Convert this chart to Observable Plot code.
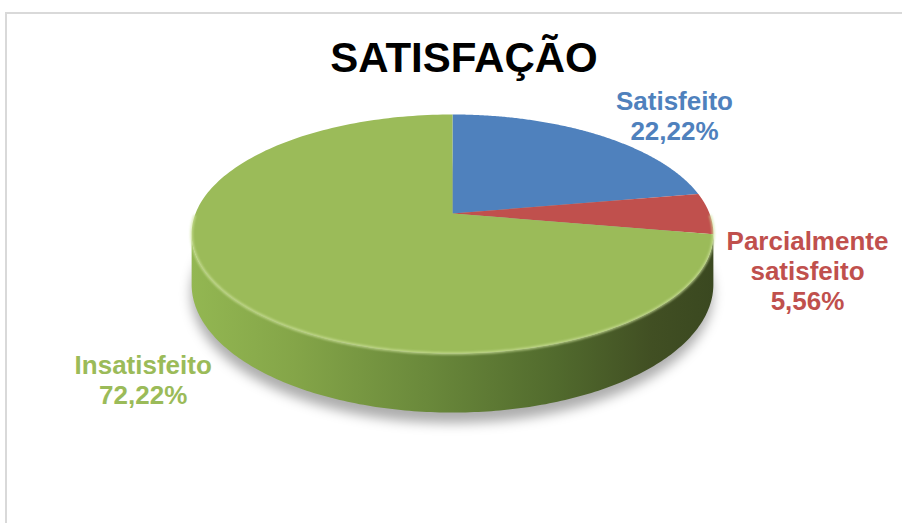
<!DOCTYPE html>
<html>
<head>
<meta charset="utf-8">
<script src="https://cdn.jsdelivr.net/npm/d3@7"></script>
<script src="https://cdn.jsdelivr.net/npm/@observablehq/plot@0.6"></script>
<style>
  html, body { margin: 0; padding: 0; background: #ffffff; }
  body { position: relative; width: 902px; height: 523px; overflow: hidden; font-family: "Liberation Sans", Arial, sans-serif; }
  #frame { position: absolute; left: 5px; top: 12px; width: 920px; height: 540px; border-left: 2px solid #d9d9d9; border-top: 2px solid #d9d9d9; box-sizing: border-box; }
  #title { position: absolute; left: 464px; top: 37px; transform: translateX(-50%); font-size: 42px; font-weight: bold; line-height: 1; color: #000; white-space: nowrap; }
  #chart { position: absolute; left: 0; top: 0; }
</style>
</head>
<body>
<div id="frame"></div>
<div id="chart"></div>
<div id="title">SATISFAÇÃO</div>
<script>
// ---- data ----
const categories = ["Satisfeito", "Parcialmente satisfeito", "Insatisfeito"];
const labelText = ["Satisfeito", "Parcialmente\nsatisfeito", "Insatisfeito"];
const values = [22.22, 5.56, 72.22];
const colors = ["#4F81BD", "#C0504D", "#9BBB59"];

// ---- layout (perspective disc) ----
const W = 902, H = 523;
const cx = 452, cy = 213, kx = 257, ky = 116, p = 0.1716, depth = 48.9;
function proj(theta, r = 1, w = 0) {
  const u = r * Math.sin(theta), v = r * Math.cos(theta), d = 1 + p * v;
  return {x: cx + kx * u / d, y: cy + (-ky * v + w * depth) / d};
}
function arc(t0, t1, w = 0, n = 200) {
  const pts = [];
  for (let i = 0; i <= n; i++) pts.push(proj(t0 + (t1 - t0) * i / n, 1, w));
  return pts;
}

const rows = categories.map((c, i) => ({category: c, value: values[i], color: colors[i], text: labelText[i]}));
const arcs = d3.pie().sort(null).value(d => d.value)(rows);

const slicePolys = arcs.map(a => [{x: cx, y: cy}, ...arc(a.startAngle, a.endAngle), {x: cx, y: cy}]);

const tR = Math.acos(-p), tL = 2 * Math.PI - tR;
const sidePoly = [...arc(tR, tL, 0), ...arc(tR, tL, 1).reverse()];
const shadowPoly = arc(0, 2 * Math.PI, 1.12);
const rimLine = arc(tR - 0.15, tL + 0.15, 0);

const nudges = [[76, -46], [98, 15], [-88, 55]];
const labels = arcs.map((a, i) => {
  const mid = (a.startAngle + a.endAngle) / 2;
  const e = proj(mid);
  return {
    x: e.x + nudges[i][0], y: e.y + nudges[i][1],
    label: a.data.text + "\n" + a.data.value.toFixed(2).replace(".", ",") + "%",
    color: a.data.color
  };
});

const marks = [
  Plot.line(shadowPoly, {x: "x", y: "y", fill: "#000000", fillOpacity: 0.32, stroke: "none"}),
  Plot.line(sidePoly, {x: "x", y: "y", fill: "#6a893b", stroke: "none"}),
  ...slicePolys.map((pts, i) => Plot.line(pts, {x: "x", y: "y", fill: colors[i], stroke: "none"})),
  Plot.line(rimLine, {x: "x", y: "y", stroke: "#cfe39c", strokeWidth: 2.5, strokeOpacity: 0.75, fill: "none"}),
  ...labels.map(l => Plot.text([l], {
    x: "x", y: "y", text: "label", fill: l.color,
    fontSize: 26, fontWeight: "bold", fontFamily: "'Liberation Sans', Arial, sans-serif",
    textAnchor: "middle", lineAnchor: "top", lineHeight: 1.155
  }))
];

const plot = Plot.plot({
  width: W, height: H,
  marginTop: 0, marginRight: 0, marginBottom: 0, marginLeft: 0,
  x: {domain: [0, W], range: [0, W], axis: null},
  y: {domain: [0, H], range: [0, H], axis: null},
  style: {background: "transparent", overflow: "visible"},
  marks
});

const svg = d3.select(plot);
const defs = svg.insert("defs", ":first-child");
const g = defs.append("linearGradient").attr("id", "sideGrad")
  .attr("gradientUnits", "userSpaceOnUse")
  .attr("x1", cx - kx * 1.02).attr("x2", cx + kx * 1.02).attr("y1", 0).attr("y2", 0);
[[0, "#93b752"], [0.2, "#84a548"], [0.45, "#6a893b"], [0.7, "#516a2d"], [0.88, "#414f23"], [1, "#3a4820"]]
  .forEach(([o, c]) => g.append("stop").attr("offset", o).attr("stop-color", c));
defs.append("filter").attr("id", "blurShadow").attr("x", "-20%").attr("y", "-20%").attr("width", "140%").attr("height", "140%")
  .append("feGaussianBlur").attr("stdDeviation", 6);
defs.append("filter").attr("id", "blurRim").attr("x", "-10%").attr("y", "-10%").attr("width", "120%").attr("height", "120%")
  .append("feGaussianBlur").attr("stdDeviation", 1.2);

const groups = svg.selectAll(":scope > g").nodes();
if (groups.length >= 6) {
  d3.select(groups[0]).attr("filter", "url(#blurShadow)").attr("transform", "translate(0,4)");
  d3.select(groups[1]).selectAll("path").attr("fill", "url(#sideGrad)");
  d3.select(groups[5]).attr("filter", "url(#blurRim)");
}

document.getElementById("chart").appendChild(plot);
</script>
</body>
</html>
